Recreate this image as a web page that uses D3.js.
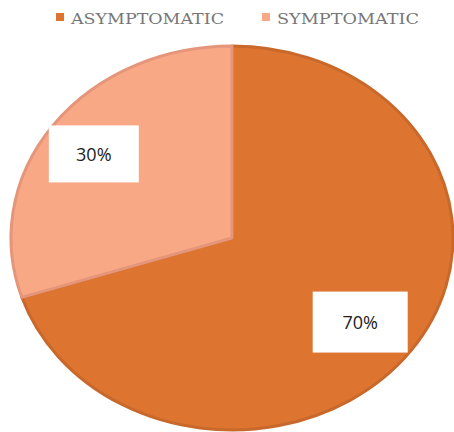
<!DOCTYPE html>
<html><head><meta charset="utf-8">
<script src="https://cdn.jsdelivr.net/npm/d3@7"></script>
<style>html,body{margin:0;padding:0;background:#fff;}</style>
</head><body>
<svg id="c" width="454" height="432"></svg>
<script>
const categories = ["ASYMPTOMATIC", "SYMPTOMATIC"];
const values = [70, 30];
const labels = ["70%", "30%"];
const fills = ["#DD7430", "#F9A885"];
const strokes = ["#C8682B", "#E4957A"];

const svg = d3.select("#c");
const cx = 232, cy = 238, rx = 221, ry = 192;

const pie = d3.pie().sort(null).value(d => d)(values);
const arc = d3.arc().innerRadius(0).outerRadius(ry);

const g = svg.append("g").attr("transform", `translate(${cx},${cy}) scale(${rx/ry},1)`);
g.selectAll("path").data(pie).join("path")
  .attr("d", arc)
  .attr("fill", (d,i) => fills[i])
  .attr("stroke", (d,i) => strokes[i])
  .attr("stroke-width", 3)
  .attr("stroke-linejoin", "round")
  .attr("vector-effect", "non-scaling-stroke");

// labels
const labelArc = d3.arc().innerRadius(ry*0.745).outerRadius(ry*0.745);
const boxW = [95, 90], boxH = [61, 57];
pie.forEach((d,i) => {
  const [x, y] = labelArc.centroid(d);
  const px = cx - 5 + x*rx/ry, py = cy + y;
  svg.append("rect").attr("x", px - boxW[i]/2).attr("y", py - boxH[i]/2)
    .attr("width", boxW[i]).attr("height", boxH[i]).attr("fill", "#fff");
  svg.append("text").attr("x", px).attr("y", py).attr("text-anchor", "middle")
    .attr("dominant-baseline", "central")
    .attr("font-family", "'Open Sans', 'Noto Sans', sans-serif")
    .attr("font-size", 18).attr("fill", "#222").text(labels[i]);
});

// legend
const legX = [56, 262], legW = [153, 142];
categories.forEach((c,i) => {
  svg.append("rect").attr("x", legX[i]).attr("y", 13).attr("width", 8).attr("height", 8).attr("fill", fills[i]);
  svg.append("text").attr("x", legX[i] + 15).attr("y", 24)
    .attr("font-family", "'DejaVu Serif', serif").attr("font-size", 15)
    .attr("textLength", legW[i]).attr("lengthAdjust", "spacingAndGlyphs")
    .attr("fill", "#777").text(c);
});
</script>
</body></html>
